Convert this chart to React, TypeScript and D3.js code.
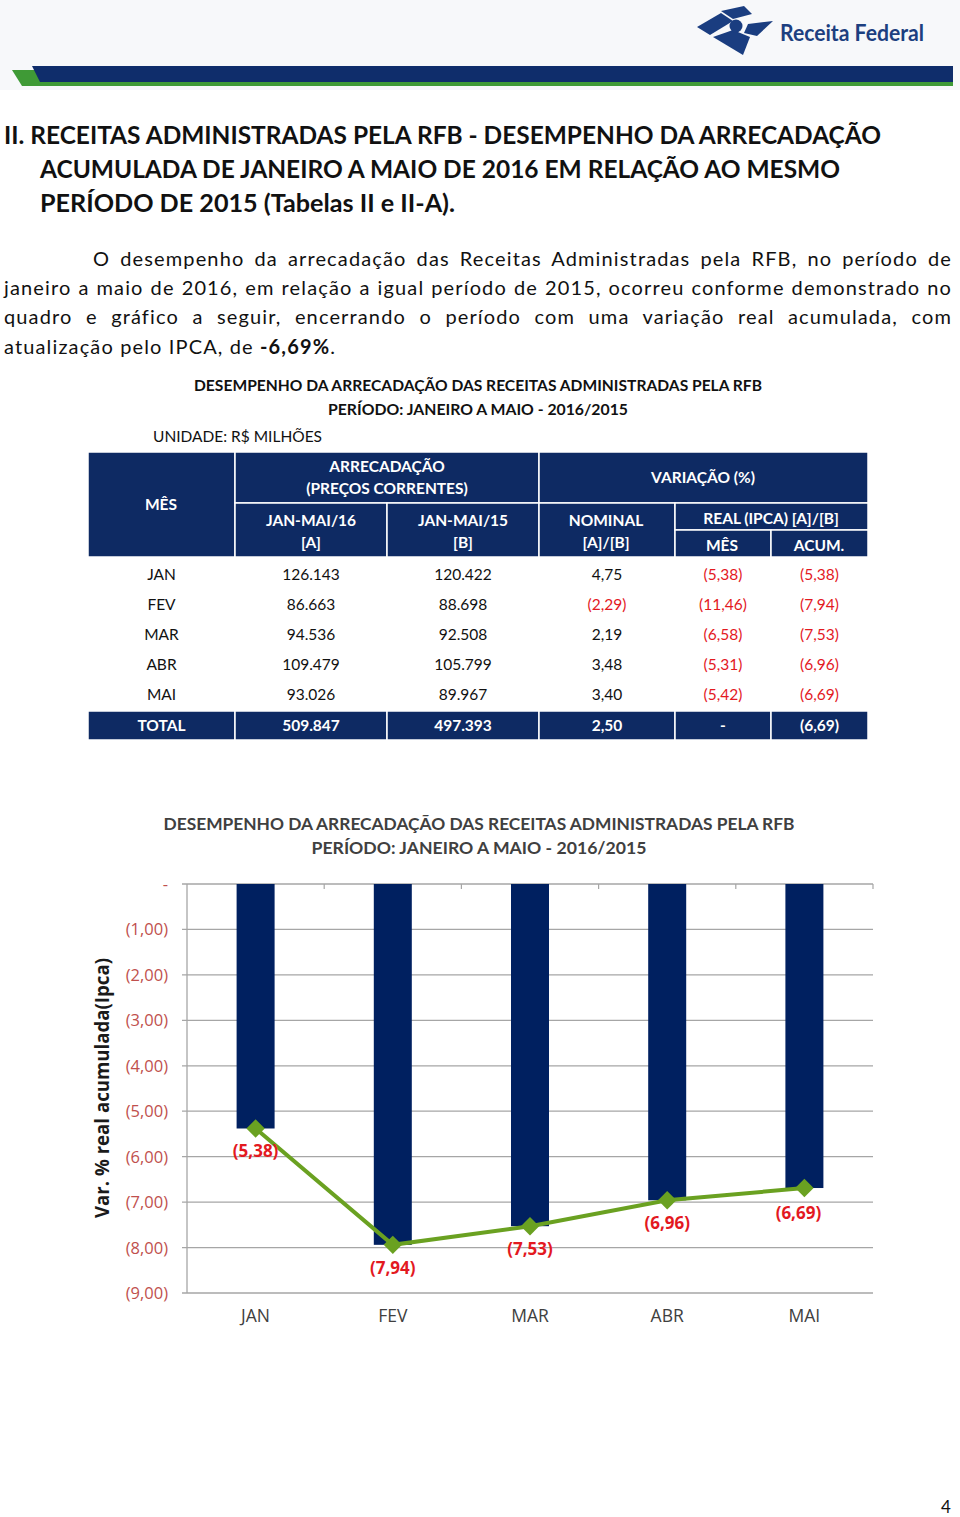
import React, { useLayoutEffect, useRef } from "react";
import * as d3 from "d3";

const months = ["JAN", "FEV", "MAR", "ABR", "MAI"];
const arrec16 = [126143, 86663, 94536, 109479, 93026];
const arrec15 = [120422, 88698, 92508, 105799, 89967];
const nominal = [4.75, -2.29, 2.19, 3.48, 3.4];
const realMes = [-5.38, -11.46, -6.58, -5.31, -5.42];
const realAcum = [-5.38, -7.94, -7.53, -6.96, -6.69];
const totalA = 509847;
const totalB = 497393;
const totalNominal = 2.5;
const totalAcum = -6.69;
const yTicks = [0, -1, -2, -3, -4, -5, -6, -7, -8, -9];

const paraLines = [
  "O desempenho da arrecadação das Receitas Administradas pela RFB, no período de",
  "janeiro a maio de 2016, em relação a igual período de 2015, ocorreu conforme demonstrado no",
  "quadro e gráfico a seguir, encerrando o período com uma variação real acumulada, com",
];

const loc = d3.formatLocale({ decimal: ",", thousands: ".", grouping: [3], currency: ["R$", ""] });
const fInt = loc.format(",d");
const f2 = loc.format(".2f");
const pct = (v: number) => (v < 0 ? `(${f2(-v)})` : f2(v));

const NAVY = "#0e2a63";
const RED = "#e3191f";
const FONT = "Lato, 'Open Sans', sans-serif";
const CFONT = "'Open Sans', 'DejaVu Sans', sans-serif";

function Paragraph() {
  const r0 = useRef<SVGTextElement>(null);
  const r1 = useRef<SVGTextElement>(null);
  const r2 = useRef<SVGTextElement>(null);
  const r3 = useRef<SVGTextElement>(null);
  const widths = [859, 948, 948];
  useLayoutEffect(() => {
    const refs = [r0.current, r1.current, r2.current];
    const last = r3.current;
    if (refs.some((r) => !r) || !last) return;
    const all = [...refs, last] as SVGTextElement[];
    all.forEach((el) => {
      el.setAttribute("letter-spacing", "0");
      el.setAttribute("word-spacing", "0");
    });
    const base = (refs[1] as SVGTextElement).getComputedTextLength();
    const chars = paraLines[1].length;
    const ls = Math.max(0, ((948 - base) / chars) * 0.9);
    all.forEach((el) => el.setAttribute("letter-spacing", String(ls)));
    refs.forEach((el, i) => {
      const e = el as SVGTextElement;
      const len = e.getComputedTextLength();
      const spaces = (paraLines[i].match(/ /g) || []).length;
      e.setAttribute("word-spacing", String((widths[i] - len) / spaces));
    });
  }, []);
  return (
    <g fontFamily={FONT} fontSize={20} fill="#111">
      <text ref={r0} x={93} y={266}>{paraLines[0]}</text>
      <text ref={r1} x={4} y={295}>{paraLines[1]}</text>
      <text ref={r2} x={4} y={324}>{paraLines[2]}</text>
      <text ref={r3} x={4} y={354}>
        atualização pelo IPCA, de <tspan fontWeight={700}>-6,69%</tspan>.
      </text>
    </g>
  );
}

export default function App() {
  const rowY = d3.scaleBand<string>().domain(months).range([559, 709]);
  const colEdges = [88, 235, 387, 539, 675, 771, 868];
  const colC = colEdges.slice(0, -1).map((e, i) => (e + colEdges[i + 1]) / 2);

  const x = d3.scaleBand<string>().domain(months).range([187, 873]);
  const y = d3.scaleLinear().domain([0, -9]).range([884, 1293]);
  const barW = 38;
  const cxOf = (i: number) => (x(months[i]) as number) + x.bandwidth() / 2;
  const line = d3
    .line<number>()
    .x((_, i) => cxOf(i))
    .y((d) => y(d));

  const headerCells: [number, number, number, number][] = [
    [88, 452, 235, 557],
    [235, 452, 539, 503],
    [539, 452, 868, 503],
    [235, 503, 387, 557],
    [387, 503, 539, 557],
    [539, 503, 675, 557],
    [675, 503, 868, 530],
    [675, 530, 771, 557],
    [771, 530, 868, 557],
  ];

  return (
    <svg width={960} height={1517} style={{ position: "absolute", left: 0, top: 0, background: "#fff" }}>
      {/* page header */}
      <rect x={0} y={0} width={960} height={90} fill="#f7f8fa" />
      <polygon points="12,70 35,70 41,82 953,82 953,86 22,86" fill="#3f9a36" />
      <polygon points="32,66 953,66 953,82 40,82" fill="#0f2d6b" />
      <g fill="#1a3d80">
        <polygon points="697,27 721,13 733,21 710,35" />
        <polygon points="721,11 744,6 752,14 733,19" />
        <polygon points="748,24 773,21 757,36 744,33" />
        <polygon points="713,37 733,30 750,37 743,55" />
        <circle cx={736} cy={26} r={6.5} />
      </g>
      <text x={780} y={41} fontFamily={FONT} fontWeight={700} fontSize={23} fill="#1d3f80" textLength={144} lengthAdjust="spacingAndGlyphs">
        Receita Federal
      </text>

      {/* heading */}
      <g fontFamily={FONT} fontWeight={700} fontSize={25} fill="#111">
        <text x={4} y={144} textLength={877} lengthAdjust="spacingAndGlyphs">II. RECEITAS ADMINISTRADAS PELA RFB - DESEMPENHO  DA ARRECADAÇÃO</text>
        <text x={40} y={178} textLength={800} lengthAdjust="spacingAndGlyphs">ACUMULADA DE JANEIRO A MAIO DE 2016 EM RELAÇÃO AO MESMO</text>
        <text x={40} y={212} textLength={415} lengthAdjust="spacingAndGlyphs">PERÍODO DE 2015 (Tabelas II e II-A).</text>
      </g>

      {/* paragraph */}
      <Paragraph />

      {/* table titles */}
      <g fontFamily={FONT} fontSize={15.5} fill="#111" textAnchor="middle">
        <text x={478} y={391} fontWeight={700} textLength={568} lengthAdjust="spacingAndGlyphs">DESEMPENHO DA ARRECADAÇÃO DAS RECEITAS ADMINISTRADAS PELA RFB</text>
        <text x={478} y={415} fontWeight={700} textLength={300} lengthAdjust="spacingAndGlyphs">PERÍODO: JANEIRO A MAIO - 2016/2015</text>
        <text x={153} y={442} textAnchor="start" textLength={169} lengthAdjust="spacingAndGlyphs">UNIDADE: R$ MILHÕES</text>
      </g>

      {/* table header */}
      <g>
        {headerCells.map(([x0, y0, x1, y1], i) => (
          <rect key={i} x={x0} y={y0} width={x1 - x0} height={y1 - y0} fill={NAVY} stroke="#fff" strokeWidth={1.5} />
        ))}
      </g>
      <g fontFamily={FONT} fontSize={15.5} fontWeight={700} fill="#fff" textAnchor="middle">
        <text x={387} y={472}>ARRECADAÇÃO</text>
        <text x={387} y={494}>(PREÇOS CORRENTES)</text>
        <text x={703} y={483}>VARIAÇÃO (%)</text>
        <text x={161} y={510}>MÊS</text>
        <text x={311} y={526}>JAN-MAI/16</text>
        <text x={311} y={548}>[A]</text>
        <text x={463} y={526}>JAN-MAI/15</text>
        <text x={463} y={548}>[B]</text>
        <text x={606} y={526}>NOMINAL</text>
        <text x={606} y={548}>[A]/[B]</text>
        <text x={771} y={524}>REAL (IPCA) [A]/[B]</text>
        <text x={722} y={551}>MÊS</text>
        <text x={819} y={551}>ACUM.</text>
      </g>

      {/* table body */}
      <g fontFamily={FONT} fontSize={15.5} textAnchor="middle">
        {months.map((m, i) => {
          const cy = (rowY(m) as number) + rowY.bandwidth() / 2 + 5.5;
          const vals = [m, fInt(arrec16[i]), fInt(arrec15[i]), pct(nominal[i]), pct(realMes[i]), pct(realAcum[i])];
          const neg = [false, false, false, nominal[i] < 0, realMes[i] < 0, realAcum[i] < 0];
          return (
            <g key={m}>
              {vals.map((v, j) => (
                <text key={j} x={colC[j]} y={cy} fill={neg[j] ? RED : "#111"}>
                  {v}
                </text>
              ))}
            </g>
          );
        })}
      </g>

      {/* total row */}
      <g>
        {colEdges.slice(0, -1).map((e, j) => (
          <rect key={j} x={e} y={711} width={colEdges[j + 1] - e} height={29} fill={NAVY} stroke="#fff" strokeWidth={1.5} />
        ))}
      </g>
      <g fontFamily={FONT} fontSize={15.5} fontWeight={700} fill="#fff" textAnchor="middle">
        {["TOTAL", fInt(totalA), fInt(totalB), pct(totalNominal), "-", pct(totalAcum)].map((v, j) => (
          <text key={j} x={colC[j]} y={731}>
            {v}
          </text>
        ))}
      </g>

      {/* chart title */}
      <g fontFamily={FONT} fontSize={17.5} fontWeight={700} fill="#404040" textAnchor="middle">
        <text x={479} y={830} textLength={631} lengthAdjust="spacingAndGlyphs">DESEMPENHO DA ARRECADAÇÃO DAS RECEITAS ADMINISTRADAS PELA RFB</text>
        <text x={479} y={854} textLength={335} lengthAdjust="spacingAndGlyphs">PERÍODO: JANEIRO A MAIO - 2016/2015</text>
      </g>

      {/* gridlines and axes */}
      <g>
        {yTicks.map((t) => (
          <line key={t} x1={182} x2={873} y1={y(t)} y2={y(t)} stroke="#a6a6a6" strokeWidth={1.3} />
        ))}
        <line x1={187} x2={187} y1={y(0)} y2={y(-9)} stroke="#a6a6a6" strokeWidth={1.3} />
        {months.slice(1).map((m) => (
          <line key={m} x1={x(m)} x2={x(m)} y1={y(0) + 5} y2={y(0)} stroke="#a6a6a6" strokeWidth={1.2} />
        ))}
        <line x1={873} x2={873} y1={y(0) + 5} y2={y(0)} stroke="#a6a6a6" strokeWidth={1.2} />
      </g>

      {/* y tick labels */}
      <g fontFamily={CFONT} fontSize={16.5} fill="#c0504d" textAnchor="end">
        {yTicks.map((t) => (
          <text key={t} x={168} y={y(t) + 6}>
            {t === 0 ? "-" : pct(t)}
          </text>
        ))}
      </g>

      {/* y axis title */}
      <text
        transform={`translate(109,1088) rotate(-90)`}
        textAnchor="middle"
        fontFamily={CFONT}
        fontSize={19}
        fontWeight={700}
        fill="#1a1a1a"
        textLength={260}
        lengthAdjust="spacingAndGlyphs"
      >
        Var. % real acumulada(Ipca)
      </text>

      {/* bars */}
      <g>
        {months.map((m, i) => (
          <rect key={m} x={cxOf(i) - barW / 2} y={y(0)} width={barW} height={y(realAcum[i]) - y(0)} fill="#002060" />
        ))}
      </g>

      {/* line */}
      <path d={line(realAcum) || ""} fill="none" stroke="#6aa121" strokeWidth={4} />
      <g>
        {realAcum.map((v, i) => {
          const cx = cxOf(i);
          const cy = y(v);
          return <rect key={i} x={cx - 6.5} y={cy - 6.5} width={13} height={13} fill="#6aa121" transform={`rotate(45,${cx},${cy})`} />;
        })}
      </g>

      {/* data labels */}
      <g fontFamily={CFONT} fontSize={17} fontWeight={700} fill={RED} textAnchor="middle">
        {realAcum.map((v, i) => (
          <text key={i} x={cxOf(i) - (i === 4 ? 6 : 0)} y={y(v) + (i === 4 ? 31 : 29)}>
            {pct(v)}
          </text>
        ))}
      </g>

      {/* x labels */}
      <g fontFamily={CFONT} fontSize={17.5} fill="#404040" textAnchor="middle">
        {months.map((m, i) => (
          <text key={m} x={cxOf(i)} y={1322}>
            {m}
          </text>
        ))}
      </g>

      {/* page number */}
      <text x={946} y={1513} textAnchor="middle" fontFamily={FONT} fontSize={17} fill="#111">
        4
      </text>
    </svg>
  );
}
